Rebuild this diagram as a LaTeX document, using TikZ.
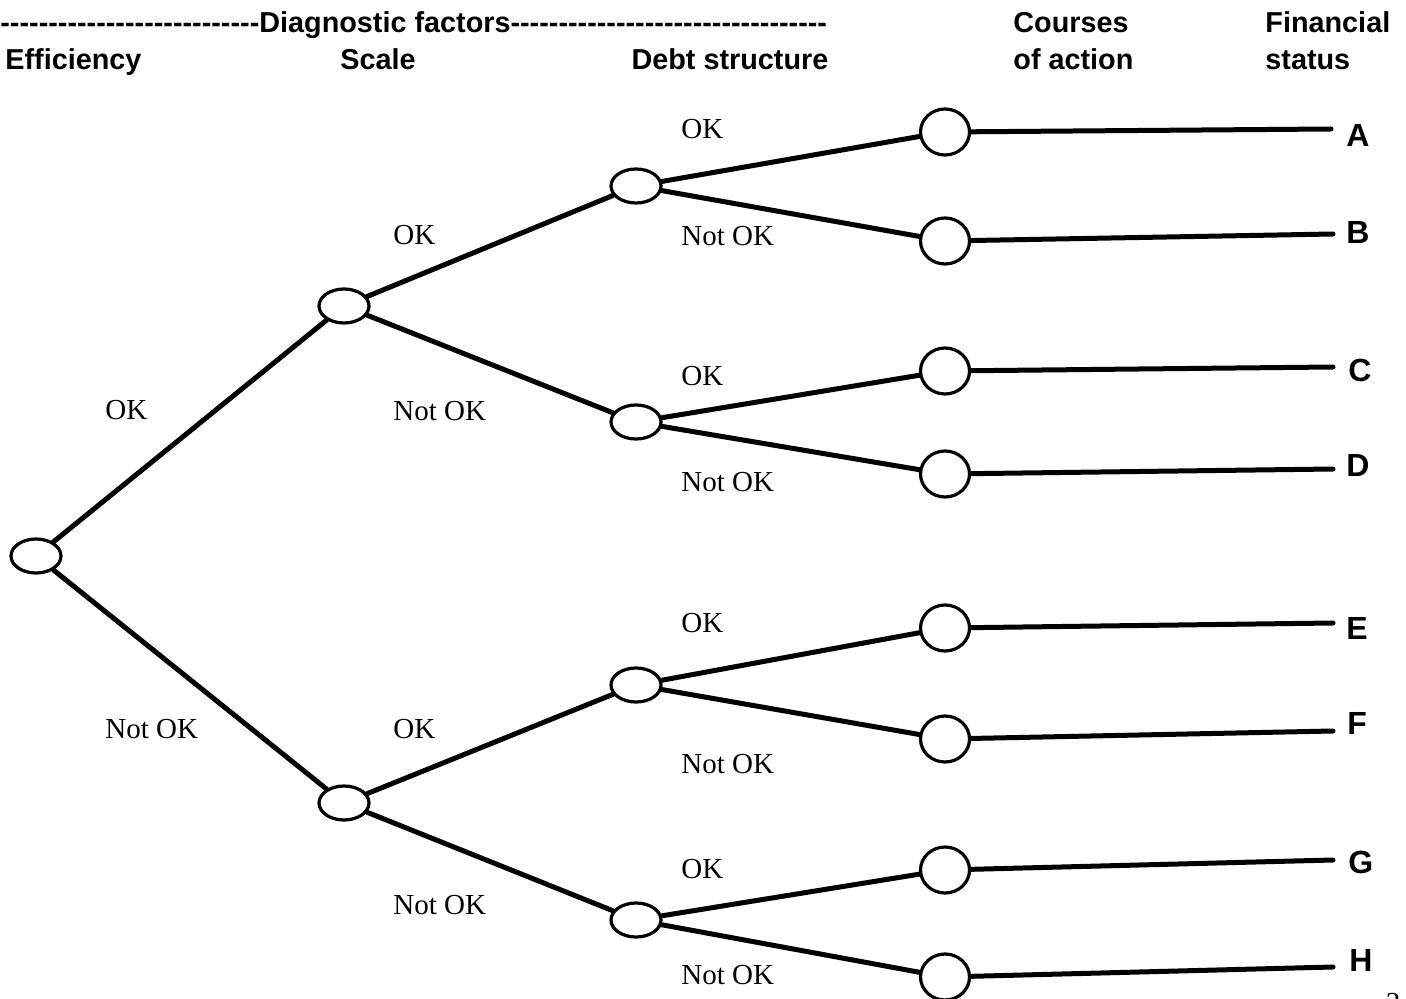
\documentclass[tikz,border=0pt]{standalone}
\usepackage{fontspec}
\setmainfont{Liberation Serif}
\setsansfont{Liberation Sans}[Ligatures=TeXOff]
\usetikzlibrary{shapes.geometric}

\begin{document}
\begin{tikzpicture}[x=0.5pt,y=-0.5pt,
    knot/.style={draw,ellipse,line width=1.6pt,minimum width=25pt,minimum height=17pt,inner sep=0pt},
    kursus/.style={draw,ellipse,line width=1.6pt,minimum width=24.5pt,minimum height=23pt,inner sep=0pt},
    gren/.style={line width=2.5pt,line cap=round},
    svar/.style={font=\fontsize{14.5}{16}\selectfont,anchor=base west,inner sep=0pt},
    hoved/.style={font=\sffamily\bfseries\fontsize{14.4}{18.5}\selectfont,inner sep=0pt},
    bogstav/.style={font=\sffamily\bfseries\fontsize{16}{18}\selectfont,anchor=west,inner sep=0pt}]
    \useasboundingbox (0,0) rectangle (1406,999);

    %Overskrifter
        \node[hoved,anchor=base west] (faktorer) at (0,33) {---------------------------Diagnostic factors---------------------------------};
        \node[hoved,anchor=base west] (effektivitet) at (5,70) {Efficiency};
        \node[hoved,anchor=base] (skala) at (378,70) {Scale};
        \node[hoved,anchor=base] (gaeld) at (730,70) {Debt structure};
        \node[hoved,anchor=base west,align=left] (handling) at (1013,70) {Courses\\of action};
        \node[hoved,anchor=base west,align=left] (status) at (1265,70) {Financial\\status};

    %Knuder
        \node[knot] (rod) at (36,556) {};
        \node[knot] (s1) at (344,306) {};
        \node[knot] (s2) at (344,803) {};
        \node[knot] (d1) at (636,186) {};
        \node[knot] (d2) at (636,422) {};
        \node[knot] (d3) at (636,685) {};
        \node[knot] (d4) at (636,920) {};
        %
        \node[kursus] (c1) at (945,132) {};
        \node[kursus] (c2) at (945,241) {};
        \node[kursus] (c3) at (945,371) {};
        \node[kursus] (c4) at (945,474) {};
        \node[kursus] (c5) at (945,628) {};
        \node[kursus] (c6) at (945,739) {};
        \node[kursus] (c7) at (945,870) {};
        \node[kursus] (c8) at (945,977) {};

    %Grene
        \draw[gren] (rod)--(s1);
        \draw[gren] (rod)--(s2);
        \draw[gren] (s1)--(d1);
        \draw[gren] (s1)--(d2);
        \draw[gren] (s2)--(d3);
        \draw[gren] (s2)--(d4);
        %
        \draw[gren] (d1)--(c1);
        \draw[gren] (d1)--(c2);
        \draw[gren] (d2)--(c3);
        \draw[gren] (d2)--(c4);
        \draw[gren] (d3)--(c5);
        \draw[gren] (d3)--(c6);
        \draw[gren] (d4)--(c7);
        \draw[gren] (d4)--(c8);

    %Svar
        \node[svar] (r1) at (105,420) {OK};
        \node[svar] (r2) at (105,738) {Not OK};
        \node[svar] (s1a) at (393,245) {OK};
        \node[svar] (s1b) at (393,421) {Not OK};
        \node[svar] (s2a) at (393,738) {OK};
        \node[svar] (s2b) at (393,914) {Not OK};
        \node[svar] (d1a) at (681,139) {OK};
        \node[svar] (d1b) at (681,246) {Not OK};
        \node[svar] (d2a) at (681,386) {OK};
        \node[svar] (d2b) at (681,491) {Not OK};
        \node[svar] (d3a) at (681,632) {OK};
        \node[svar] (d3b) at (681,773) {Not OK};
        \node[svar] (d4a) at (681,878) {OK};
        \node[svar] (d4b) at (681,984) {Not OK};

    %Finansiel status
        \coordinate (e1) at (1331,129);
        \coordinate (e2) at (1333,234);
        \coordinate (e3) at (1333,367);
        \coordinate (e4) at (1333,469);
        \coordinate (e5) at (1333,623);
        \coordinate (e6) at (1333,731);
        \coordinate (e7) at (1333,860);
        \coordinate (e8) at (1333,967);
        \draw[gren] (c1)--(e1);
        \draw[gren] (c2)--(e2);
        \draw[gren] (c3)--(e3);
        \draw[gren] (c4)--(e4);
        \draw[gren] (c5)--(e5);
        \draw[gren] (c6)--(e6);
        \draw[gren] (c7)--(e7);
        \draw[gren] (c8)--(e8);
        \node[bogstav] (A) at (1346,135) {A};
        \node[bogstav] (B) at (1346,232) {B};
        \node[bogstav] (C) at (1348,370) {C};
        \node[bogstav] (D) at (1346,465) {D};
        \node[bogstav] (E) at (1346,628) {E};
        \node[bogstav] (F) at (1347,723) {F};
        \node[bogstav] (G) at (1348,862) {G};
        \node[bogstav] (H) at (1349,960) {H};

        \node[svar,anchor=base] (side) at (1393,1012) {3};
\end{tikzpicture}
\end{document}
